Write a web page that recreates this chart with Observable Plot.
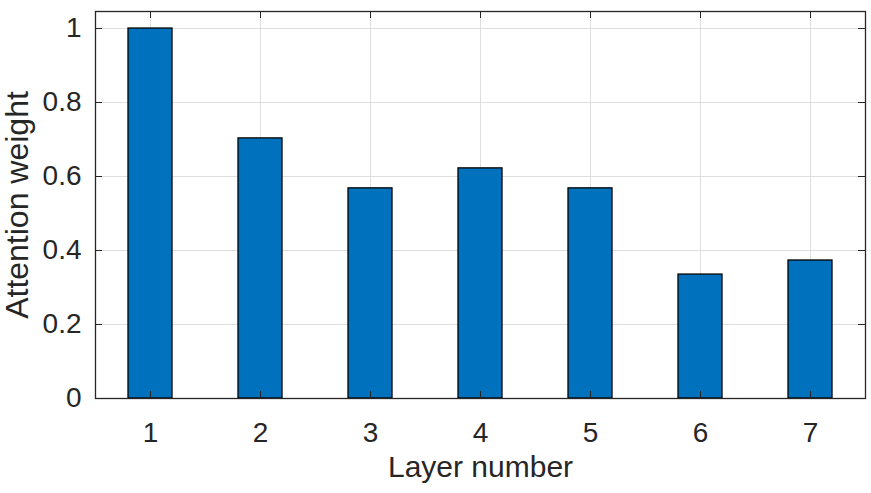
<!DOCTYPE html>
<html>
<head>
<meta charset="utf-8">
<script src="https://cdn.jsdelivr.net/npm/d3@7"></script>
<script src="https://cdn.jsdelivr.net/npm/@observablehq/plot@0.6"></script>
<style>
  html, body { margin: 0; padding: 0; background: #fff; }
  #chart { width: 871px; height: 493px; }
</style>
</head>
<body>
<div id="chart"></div>
<script>
const layers = [1, 2, 3, 4, 5, 6, 7];
const weights = [1.0, 0.703, 0.568, 0.622, 0.568, 0.335, 0.373];
const yTicks = [0, 0.2, 0.4, 0.6, 0.8, 1];
const xLabel = "Layer number";
const yLabel = "Attention weight";

const data = layers.map((l, i) => ({layer: l, weight: weights[i]}));
const ink = "#262626";
const font = "Liberation Sans, Arial, Helvetica, sans-serif";
const mL = 95, mR = 6, mT = 11, mB = 95;
const frameW = 871 - mL - mR;
const frameH = 493 - mT - mB;
const tickLen = 7;

const chart = Plot.plot({
  width: 871,
  height: 493,
  marginLeft: mL,
  marginRight: mR,
  marginTop: mT,
  marginBottom: mB,
  style: {fontFamily: font, color: ink, background: "#fff"},
  x: {type: "band", domain: layers, paddingInner: 0.6, paddingOuter: 0.3, align: 0.5, round: false},
  y: {domain: [0, 1.046]},
  marks: [
    Plot.gridX(layers, {stroke: "#dedede", strokeOpacity: 1, strokeWidth: 1}),
    Plot.gridY(yTicks, {stroke: "#dedede", strokeOpacity: 1, strokeWidth: 1}),
    Plot.barY(data, {x: "layer", y: "weight", fill: "#0072BD", stroke: "#000", strokeWidth: 1.3}),
    // inward ticks on all four sides
    Plot.tickX(layers, {x: d => d, insetTop: frameH - tickLen, stroke: ink, strokeWidth: 1}),
    Plot.tickX(layers, {x: d => d, insetBottom: frameH - tickLen, stroke: ink, strokeWidth: 1}),
    Plot.tickY(yTicks, {y: d => d, insetRight: frameW - tickLen, stroke: ink, strokeWidth: 1}),
    Plot.tickY(yTicks, {y: d => d, insetLeft: frameW - tickLen, stroke: ink, strokeWidth: 1}),
    Plot.axisX(layers, {anchor: "bottom", tickSize: 0, tickPadding: 24, fontSize: 28, fill: ink, label: null}),
    Plot.axisY(yTicks, {anchor: "left", tickSize: 0, tickPadding: 14, fontSize: 28, fill: ink, label: null, tickFormat: d => String(d)}),
    Plot.frame({stroke: ink, strokeWidth: 1.3}),
    Plot.text([xLabel], {frameAnchor: "bottom", dy: 78, fontSize: 30, fill: ink, textAnchor: "middle", text: d => d}),
    Plot.text([yLabel], {frameAnchor: "left", dx: -78, rotate: -90, fontSize: 32, fill: ink, textAnchor: "middle", text: d => d})
  ]
});
document.getElementById("chart").appendChild(chart);
</script>
</body>
</html>
